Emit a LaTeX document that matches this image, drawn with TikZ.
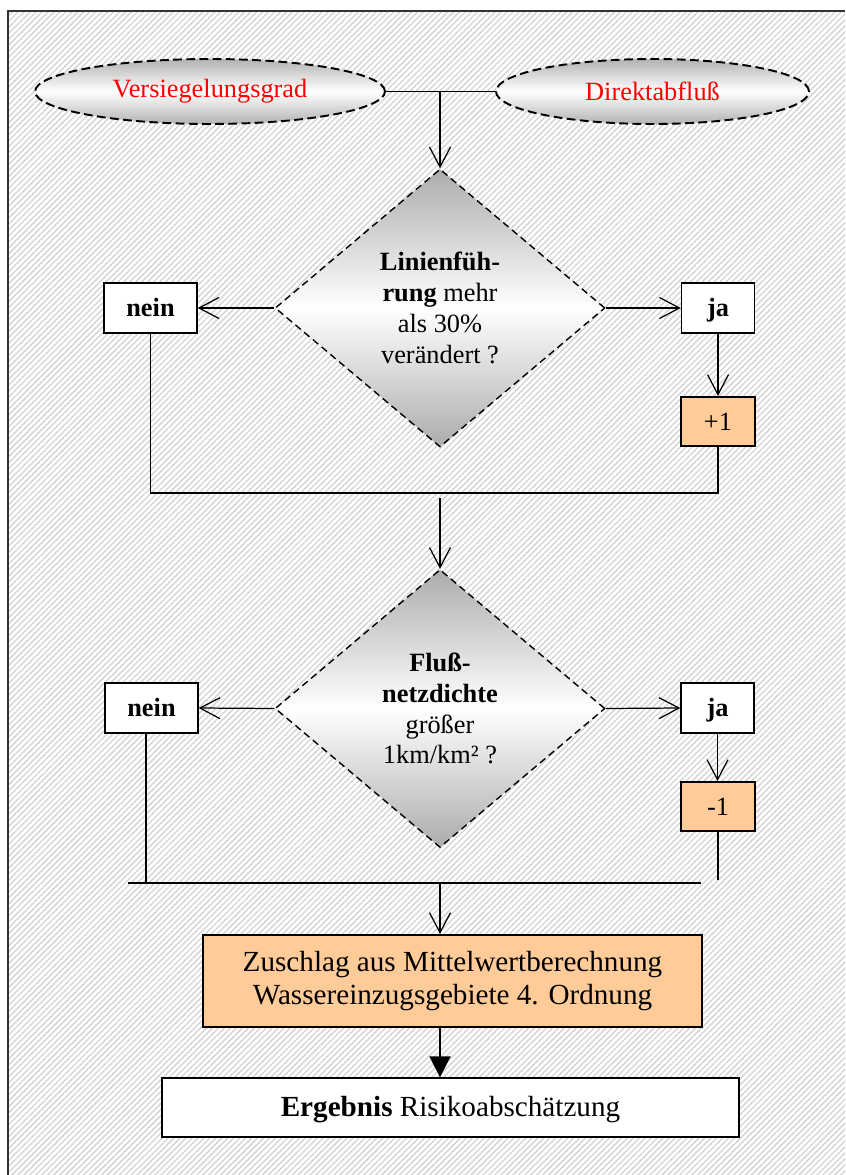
\documentclass[tikz,border=0pt]{standalone}
\usepackage{fontspec}
\setmainfont{Liberation Serif}
\usetikzlibrary{shapes.geometric,arrows.meta,patterns.meta}

\definecolor{scoreorange}{HTML}{FFCC99}
\definecolor{hatchgray}{HTML}{D2D2D2}

\begin{document}
\begin{tikzpicture}[
        x=0.02cm, y=-0.02cm,
        txt/.style={font=\fontsize{15}{17.6}\selectfont},
        bigtxt/.style={font=\fontsize{16.6}{19.3}\selectfont},
        input/.style={ellipse, draw, dashed, dash pattern=on 5pt off 2.5pt, line width=1.1pt, inner sep=0pt,
            minimum height=1.3cm, top color=gray!60, bottom color=gray!60, middle color=white, text=red, txt},
        decision/.style={diamond, draw, dash pattern=on 4pt off 2.5pt, line width=0.8pt, inner sep=0pt,
            minimum width=6.6cm, minimum height=5.56cm, aspect=1.19, align=center,
            top color=gray!65, bottom color=gray!65, middle color=white, txt},
        answer/.style={draw, line width=0.8pt, fill=white, minimum height=1cm, inner sep=0pt,
            text height=10pt, text depth=0pt, font=\bfseries\fontsize{15}{17.6}\selectfont},
        score/.style={draw, line width=1.2pt, fill=scoreorange, minimum width=1.48cm, minimum height=0.98cm, inner sep=0pt, txt},
        line/.style={line width=0.7pt},
        arr/.style={line, -{Straight Barb[length=0.4cm,width=0.42cm,line width=0.7pt]}},
        arrfill/.style={line width=1.1pt, -{Triangle[length=0.42cm,width=0.42cm]}}
    ]
        \useasboundingbox (0,0) rectangle (845,1175);

        % Background frame
        \fill[pattern={Lines[angle=45,distance=2.4pt,line width=0.75pt]}, pattern color=hatchgray] (8,11) rectangle (845,1175);
        \draw[line width=0.8pt, black!80] (8,1175) -- (8,11) -- (845,11);

        % Inputs
        \node[input, minimum width=7cm] (vers) at (210,91.5) {Versiegelungsgrad};
        \node[input, minimum width=6.26cm] (direkt) at (652.5,91.5) {Direktabfluß};

        % Question 1
        \node[decision] (dec1) at (440,308) {\textbf{Linienfüh-}\\\textbf{rung} mehr\\als 30\%\\verändert ?};
        \node[answer, minimum width=1.86cm] (nein1) at (150.5,308) {nein};
        \node[answer, minimum width=1.46cm] (ja1) at (718,308) {ja};
        \node[score] (plus1) at (718,421.5) {+1};

        \coordinate (join1) at (440,91.5);
        \coordinate (merge1) at (440,493);

        \draw[line] (vers) -- (direkt);
        \draw[arr] (join1) -- (dec1.north);
        \draw[arr] (dec1.west) -- (nein1.east);
        \draw[arr] (dec1.east) -- (ja1.west);
        \draw[arr] (ja1.south) -- (plus1.north);
        \draw[line] (nein1.south) |- (merge1) -| (plus1.south);

        % Question 2
        \node[decision] (dec2) at (440,708.5) {\textbf{Fluß-}\\\textbf{netzdichte}\\größer\\1km/km² ?};
        \node[answer, minimum width=1.86cm] (nein2) at (151.5,708) {nein};
        \node[answer, minimum width=1.46cm] (ja2) at (717.5,708) {ja};
        \node[score] (minus1) at (718,806.5) {-1};

        \coordinate (merge2) at (440,883);
        \coordinate (bar2l) at (128,883);
        \coordinate (bar2r) at (701,883);

        \draw[arr] ([yshift=-0.1cm]merge1) -- (dec2.north);
        \draw[arr] (dec2.west) -- (nein2.east);
        \draw[arr] (dec2.east) -- (ja2.west);
        \draw[arr] (ja2.south) -- (ja2.south |- minus1.north);
        \draw[line] ([xshift=-0.11cm]nein2.south) -- ([xshift=-0.11cm]nein2.south |- merge2);
        \draw[line] (minus1.south) -- ([yshift=0.06cm]minus1.south |- merge2);
        \draw[line] (bar2l) -- (bar2r);

        % Result
        \node[score, minimum width=9.98cm, minimum height=1.84cm, align=center, bigtxt] (zuschlag) at (452.5,981) {Zuschlag aus Mittelwertberechnung\\Wassereinzugsgebiete 4. Ordnung};
        \node[answer, minimum width=11.54cm, minimum height=1.18cm, font=\normalfont, bigtxt] (ergebnis) at (450.5,1107.5) {\textbf{Ergebnis} Risikoabschätzung};

        \draw[arr] (merge2) -- (merge2 |- zuschlag.north);
        \draw[arrfill] (zuschlag.south -| merge2) -- (ergebnis.north -| merge2);
    \end{tikzpicture}
\end{document}
